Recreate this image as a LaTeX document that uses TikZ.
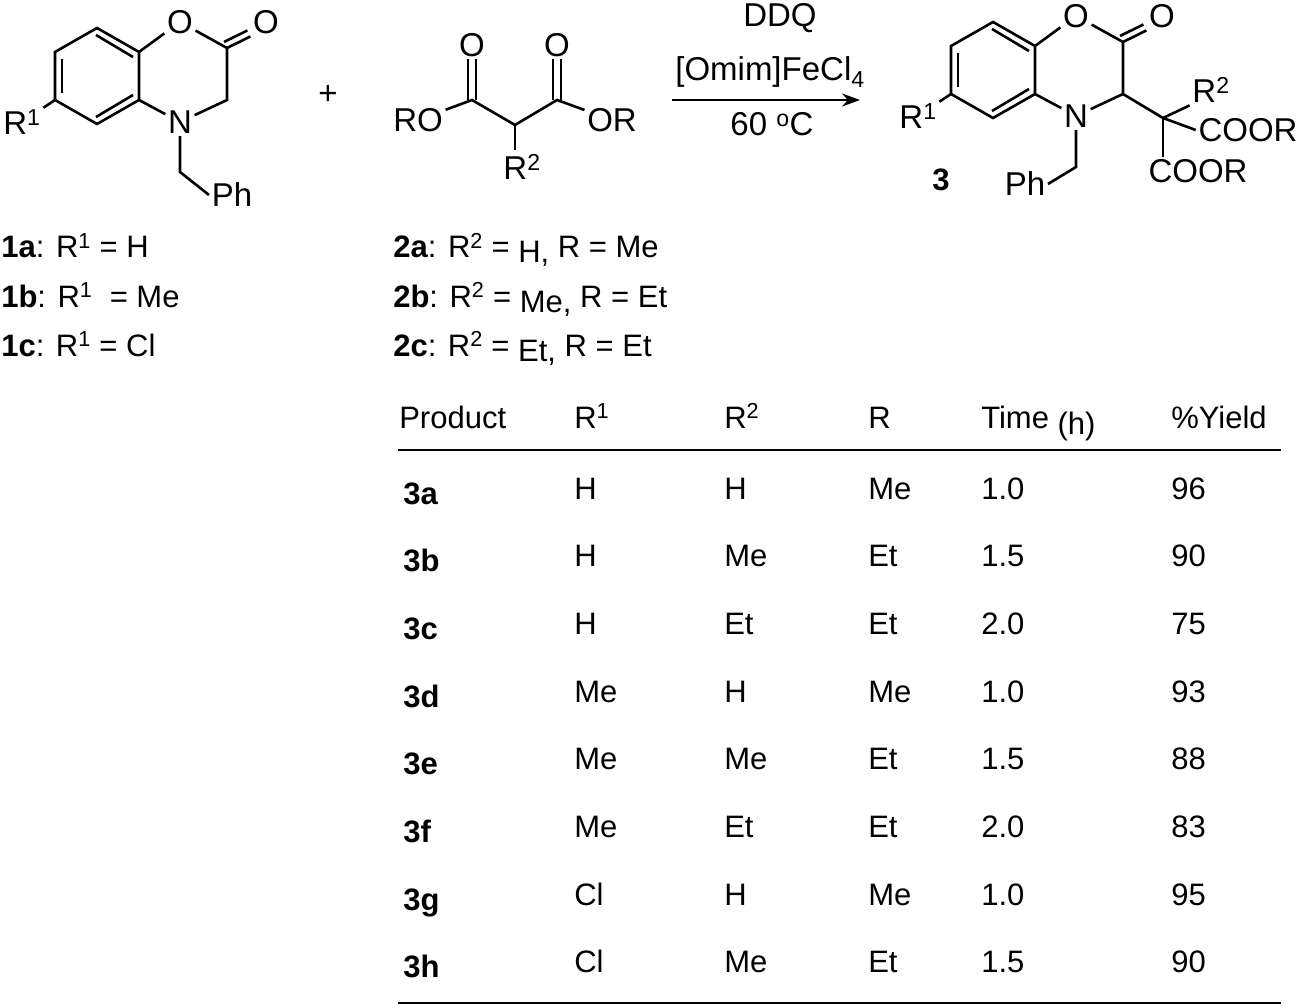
\documentclass[tikz,border=0pt]{standalone}
\usepackage{fontspec}
\setmainfont{Liberation Sans}
\usetikzlibrary{arrows.meta}
\begin{document}
\begin{tikzpicture}[x=1pt,y=-1pt,line width=2.6pt,
  atm/.style={inner sep=1.5pt,font=\fontsize{33}{36}\selectfont},
  lab/.style={inner sep=0pt,anchor=base west,font=\fontsize{31}{34}\selectfont},
  cell/.style={inner sep=0pt,anchor=base west,font=\fontsize{31}{34}\selectfont}]
\useasboundingbox (0,0) rectangle (1300,1008);
% ---------- molecule 1 ----------
\begin{scope}
\coordinate (t) at (97,28); \coordinate (ur) at (139,52); \coordinate (lr) at (139,100);
\coordinate (b) at (97,124); \coordinate (ll) at (55,100); \coordinate (ul) at (55,52);
\node[atm] (o1) at (180,22) {O};
\coordinate (c2) at (227,48);
\node[atm] (o2) at (266,22) {O};
\coordinate (c3) at (227,100);
\node[atm] (n1) at (180,122) {N};
\coordinate (ch) at (180,172);
\node[atm] (ph) at (232,195) {Ph};
\node[atm] (r1) at (22,122) {R\textsuperscript{1}};
\draw (t)--(ur)--(lr)--(b)--(ll)--(ul)--cycle;
\draw ([shift={(-1,7)}]t)--([shift={(-6,5)}]ur);
\draw ([shift={(7,7)}]ul)--([shift={(7,-7)}]ll);
\draw ([shift={(-1,-7)}]b)--([shift={(-6,-5)}]lr);
\draw (ur)--(o1)--(c2)--(c3)--(n1)--(lr);
\draw (c2)--(o2.south west);
\draw ([shift={(-3,-6)}]c2)--([shift={(-3,-6)}]o2.south west);
\draw (n1)--(ch)--(ph.west);
\draw (ll)--(r1);
\end{scope}
\node[atm] (plus) at (328,95) {+};
% ---------- malonate ----------
\node[atm] (ro) at (418,120) {RO};
\coordinate (ca) at (472,100);
\node[atm] (oa) at (472,45) {O};
\coordinate (cm) at (515,125);
\coordinate (cb) at (557,100);
\node[atm] (ob) at (557,45) {O};
\node[atm] (or) at (612,120) {OR};
\node[atm] (r2) at (522,167) {R\textsuperscript{2}};
\coordinate (cr) at (515,150);
\draw (ro)--(ca)--(cm)--(cb)--(or);
\draw (cm)--(cr);
\draw ([xshift=4]ca)--([xshift=4]oa.south);
\draw ([xshift=-4]ca)--([xshift=-4]oa.south);
\draw ([xshift=4]cb)--([xshift=4]ob.south);
\draw ([xshift=-4]cb)--([xshift=-4]ob.south);
% ---------- arrow ----------
\coordinate (as) at (672,100); \coordinate (ae) at (860,100);
\draw[line width=2.2pt,-{Stealth[length=18pt,width=13pt]}] (as)--(ae);
\node[atm] (ddq) at (780,18) {DDQ};
\node[atm] (cat) at (770,72) {[Omim]FeCl\textsubscript{4}};
\node[atm] (tmp) at (772,124) {60 \textsuperscript{o}C};
% ---------- product 3 ----------
\begin{scope}[shift={(896,-6)}]
\coordinate (t) at (97,28); \coordinate (ur) at (139,52); \coordinate (lr) at (139,100);
\coordinate (b) at (97,124); \coordinate (ll) at (55,100); \coordinate (ul) at (55,52);
\node[atm] (o1) at (180,22) {O};
\coordinate (c2) at (227,48);
\node[atm] (o2) at (266,22) {O};
\coordinate (c3) at (227,100);
\node[atm] (n1) at (180,122) {N};
\coordinate (ch) at (180,173);
\node[atm] (ph) at (129,190) {Ph};
\node[atm] (r1) at (22,122) {R\textsuperscript{1}};
\coordinate (cq) at (267,124);
\node[atm] (r2) at (315,96) {R\textsuperscript{2}};
\node[atm] (ca1) at (352,136) {COOR};
\node[atm] (ca2) at (302,177) {COOR};
\node[atm,font=\bfseries\fontsize{31}{34}\selectfont] (n3) at (45,186) {3};
\draw (t)--(ur)--(lr)--(b)--(ll)--(ul)--cycle;
\draw ([shift={(-1,7)}]t)--([shift={(-6,5)}]ur);
\draw ([shift={(7,7)}]ul)--([shift={(7,-7)}]ll);
\draw ([shift={(-1,-7)}]b)--([shift={(-6,-5)}]lr);
\draw (ur)--(o1)--(c2)--(c3)--(n1)--(lr);
\draw (c2)--(o2.south west);
\draw ([shift={(-3,-6)}]c2)--([shift={(-3,-6)}]o2.south west);
\draw (n1)--(ch)--(ph.east);
\draw (ll)--(r1);
\draw (c3)--(cq);
\draw (cq)--(r2.south west);
\draw (cq)--(ca1.west);
\draw (cq)--(ca2.north west -| cq);
\end{scope}
% ---------- labels ----------
\node[lab] (l1a) at (0,258) {\textbf{1a}: R\textsuperscript{1} = H};
\node[lab] (l1b) at (0,307) {\textbf{1b}: R\textsuperscript{1} \ = Me};
\node[lab] (l1c) at (0,356) {\textbf{1c}: R\textsuperscript{1} = Cl};
\node[lab] (l2a) at (392,258) {\textbf{2a}: R\textsuperscript{2} = \raisebox{-5pt}{H,} R = Me};
\node[lab] (l2b) at (392,307) {\textbf{2b}: R\textsuperscript{2} = \raisebox{-5pt}{Me,} R = Et};
\node[lab] (l2c) at (392,356) {\textbf{2c}: R\textsuperscript{2} = \raisebox{-5pt}{Et,} R = Et};
% ---------- table ----------
\node[cell] (h1) at (398,428) {Product};
\node[cell] (h2) at (573,428) {R\textsuperscript{1}};
\node[cell] (h3) at (723,428) {R\textsuperscript{2}};
\node[cell] (h4) at (867,428) {R};
\node[cell] (h5) at (980,428) {Time \raisebox{-6pt}{(h)}};
\node[cell] (h6) at (1170,428) {\%Yield};
\coordinate (la) at (398,450); \coordinate (lb) at (1281,450);
\coordinate (lc) at (398,1003); \coordinate (ld) at (1281,1003);
\draw[line width=2.2pt] (la)--(lb);
\draw[line width=2.2pt] (lc)--(ld);
\foreach \p/\a/\b/\c/\d/\e [count=\i] in {3a/H/H/Me/1.0/96,3b/H/Me/Et/1.5/90,3c/H/Et/Et/2.0/75,3d/Me/H/Me/1.0/93,3e/Me/Me/Et/1.5/88,3f/Me/Et/Et/2.0/83,3g/Cl/H/Me/1.0/95,3h/Cl/Me/Et/1.5/90}{
  \pgfmathsetmacro{\yy}{499+67.7*(\i-1)}
  \node[cell] (p\i) at (402,\yy+5) {\textbf{\p}};
  \node[cell] (a\i) at (573,\yy) {\a};
  \node[cell] (b\i) at (723,\yy) {\b};
  \node[cell] (c\i) at (867,\yy) {\c};
  \node[cell] (d\i) at (980,\yy) {\d};
  \node[cell] (e\i) at (1170,\yy) {\e};
}
\end{tikzpicture}
\end{document}
